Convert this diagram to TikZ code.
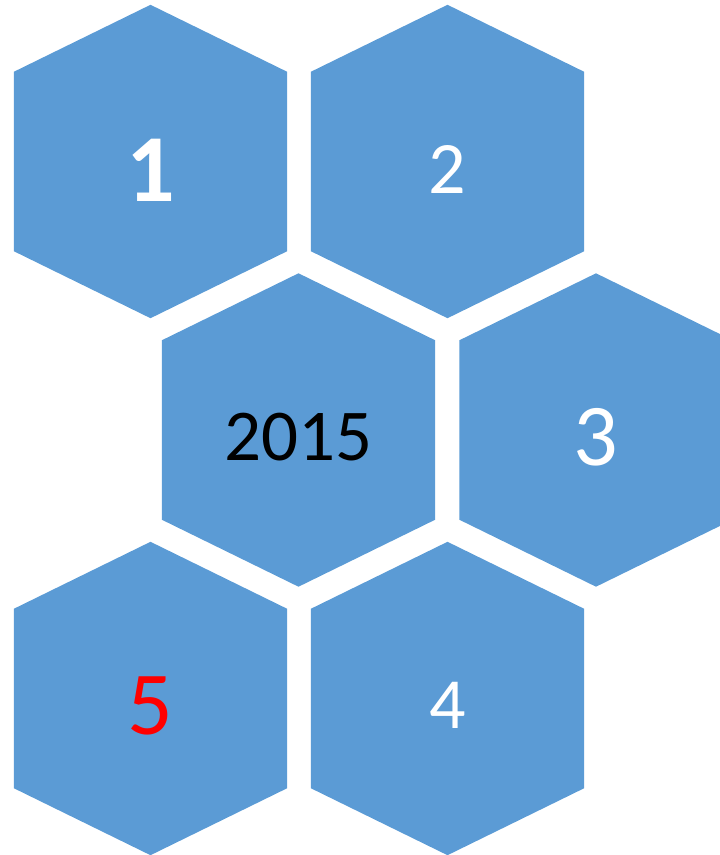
\documentclass[tikz,border=0pt]{standalone}
\usepackage{fontspec}
\setmainfont{Carlito}
\definecolor{hexblue}{HTML}{5B9BD5}
\begin{document}
\begin{tikzpicture}[x=1pt, y=-1pt,
  hexa/.style={rectangle, draw=none, minimum width=273pt, minimum height=179pt, inner sep=0pt},
  num/.style={text=white, inner sep=0pt}]
  \useasboundingbox (0,0) rectangle (720,855);

  \node[hexa] (h1) at (150.5,161.5) {};
  \node[hexa] (h2) at (447.5,161.5) {};
  \node[hexa] (hyear) at (298.5,430) {};
  \node[hexa] (h3) at (596,430) {};
  \node[hexa] (h5) at (150.5,698.5) {};
  \node[hexa] (h4) at (447.5,698.5) {};

  % hexagon bodies round each box
  \foreach \h in {h1,h2,hyear,h3,h5,h4}
    \fill[hexblue] (\h.north west) -- ([yshift=67pt]\h.north) -- (\h.north east)
      -- (\h.south east) -- ([yshift=-67pt]\h.south) -- (\h.south west) -- cycle;

  \node[num, font=\fontsize{96}{96}\selectfont\bfseries] (t1) at ([yshift=-9pt] h1.center) {1};
  \node[num, font=\fontsize{74}{74}\selectfont] (t2) at ([yshift=-8pt] h2.center) {2};
  \node[num, text=black, font=\fontsize{73}{73}\selectfont] (tyear) at ([yshift=-7pt] hyear.center) {2015};
  \node[num, font=\fontsize{88}{88}\selectfont] (t3) at ([yshift=-7pt] h3.center) {3};
  \node[num, text=red, font=\fontsize{90}{90}\selectfont] (t5) at ([yshift=-7pt] h5.center) {5};
  \node[num, font=\fontsize{72}{72}\selectfont] (t4) at ([yshift=-7pt] h4.center) {4};
\end{tikzpicture}
\end{document}
